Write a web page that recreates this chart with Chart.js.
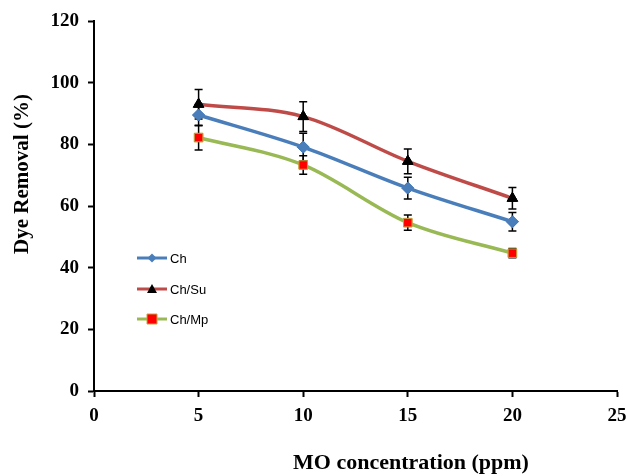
<!DOCTYPE html>
<html>
<head>
<meta charset="utf-8">
<script src="https://cdn.jsdelivr.net/npm/chart.js@4.4.1/dist/chart.umd.min.js"></script>
<style>
html,body{margin:0;padding:0;background:#fff;}
#wrap{width:627px;height:476px;position:relative;}
</style>
</head>
<body>
<div id="wrap"><canvas id="c" width="627" height="476"></canvas></div>
<script>
const concentrations = [5, 10, 15, 20];
const seriesNames = ["Ch", "Ch/Su", "Ch/Mp"];
const chValues = [89.5, 79.1, 65.8, 54.9];
const chErrors = [3.5, 4.5, 3.5, 3.0];
const suValues = [93.0, 89.0, 74.5, 62.5];
const suErrors = [4.8, 4.8, 4.0, 3.5];
const mpValues = [82.2, 73.3, 54.6, 44.7];
const mpErrors = [4.0, 3.0, 2.5, 1.5];
const xTicks = [0, 5, 10, 15, 20, 25];
const yTicks = [0, 20, 40, 60, 80, 100, 120];
const xTitle = "MO concentration (ppm)";
const yTitle = "Dye Removal (%)";

const toPts = (vals) => concentrations.map((x, i) => ({x: x, y: vals[i]}));
const errs = [chErrors, suErrors, mpErrors];

const errorBarPlugin = {
  id: 'errorBars',
  afterDatasetsDraw(chart) {
    const ctx = chart.ctx;
    const xs = chart.scales.x, ys = chart.scales.y;
    ctx.save();
    ctx.strokeStyle = '#000';
    ctx.lineWidth = 1.5;
    chart.data.datasets.forEach((ds, di) => {
      ds.data.forEach((p, i) => {
        const e = errs[di][i];
        const px = xs.getPixelForValue(p.x);
        const top = ys.getPixelForValue(p.y + e);
        const bot = ys.getPixelForValue(p.y - e);
        ctx.beginPath();
        ctx.moveTo(px, top); ctx.lineTo(px, bot);
        ctx.moveTo(px - 4, top); ctx.lineTo(px + 4, top);
        ctx.moveTo(px - 4, bot); ctx.lineTo(px + 4, bot);
        ctx.stroke();
      });
    });
    chart.data.datasets.forEach((ds, di) => {
      const meta = chart.getDatasetMeta(di);
      meta.data.forEach(pt => pt.draw(ctx, chart.chartArea));
    });
    ctx.restore();
  }
};

const titlePlugin = {
  id: 'axisTitles',
  afterDraw(chart) {
    const ctx = chart.ctx;
    ctx.save();
    ctx.fillStyle = '#000';
    ctx.font = 'bold 22px "Liberation Serif", "Times New Roman", serif';
    ctx.textAlign = 'center';
    ctx.textBaseline = 'middle';
    ctx.fillText(xTitle, 411, 463);
    ctx.font = 'bold 21px "Liberation Serif", "Times New Roman", serif';
    ctx.translate(23, 174);
    ctx.rotate(-Math.PI / 2);
    ctx.fillText(yTitle, 0, 0);
    ctx.restore();
  }
};

const legendPlugin = {
  id: 'innerLegend',
  afterDraw(chart) {
    const ctx = chart.ctx;
    ctx.save();
    const rows = [258, 289, 319];
    chart.data.datasets.forEach((ds, di) => {
      const y = rows[di];
      ctx.strokeStyle = ds.borderColor;
      ctx.lineWidth = 3;
      ctx.beginPath(); ctx.moveTo(137, y); ctx.lineTo(167, y); ctx.stroke();
      const mx = 152;
      ctx.fillStyle = ds.pointBackgroundColor;
      ctx.strokeStyle = ds.pointBorderColor;
      ctx.lineWidth = 1;
      ctx.beginPath();
      if (ds.pointStyle === 'rectRot') {
        ctx.moveTo(mx, y - 4.5); ctx.lineTo(mx + 4.5, y); ctx.lineTo(mx, y + 4.5); ctx.lineTo(mx - 4.5, y); ctx.closePath();
        ctx.fill();
      } else if (ds.pointStyle === 'triangle') {
        ctx.moveTo(mx, y - 5); ctx.lineTo(mx + 5, y + 4); ctx.lineTo(mx - 5, y + 4); ctx.closePath();
        ctx.fill();
      } else {
        ctx.rect(mx - 5, y - 5, 10, 10); ctx.fill(); ctx.stroke();
      }
      ctx.fillStyle = '#000';
      ctx.font = '13px "Liberation Sans", "Open Sans", sans-serif';
      ctx.textAlign = 'left';
      ctx.textBaseline = 'middle';
      ctx.fillText(ds.label, 170, y + 1);
    });
    ctx.restore();
  }
};

const tickFont = {family: '"Liberation Serif", "Times New Roman", serif', size: 19, weight: 'bold'};

new Chart(document.getElementById('c'), {
  type: 'line',
  data: {
    datasets: [
      {label: seriesNames[0], data: toPts(chValues), borderColor: '#4a7ebb', backgroundColor: '#4a7ebb',
       pointStyle: 'rectRot', pointRadius: 6, pointBackgroundColor: '#4a7ebb', pointBorderColor: '#4a7ebb', pointBorderWidth: 1,
       borderWidth: 3.5, tension: 0.4, cubicInterpolationMode: 'monotone'},
      {label: seriesNames[1], data: toPts(suValues), borderColor: '#be4b48', backgroundColor: '#000',
       pointStyle: 'triangle', pointRadius: 6, pointBackgroundColor: '#000', pointBorderColor: '#000', pointBorderWidth: 1,
       borderWidth: 3.5, tension: 0.4, cubicInterpolationMode: 'monotone'},
      {label: seriesNames[2], data: toPts(mpValues), borderColor: '#98b954', backgroundColor: '#ff0000',
       pointStyle: 'rect', pointRadius: 6, pointBackgroundColor: '#ff0000', pointBorderColor: '#c8a040', pointBorderWidth: 1,
       borderWidth: 3.5, tension: 0.4, cubicInterpolationMode: 'monotone'}
    ]
  },
  options: {
    responsive: false,
    animation: false,
    layout: {padding: {top: 21, right: 0, left: 0, bottom: 0}},
    plugins: {legend: {display: false}, tooltip: {enabled: false}, title: {display: false}},
    scales: {
      x: {
        type: 'linear', min: 0, max: 25,
        afterBuildTicks: (s) => { s.ticks = xTicks.map(v => ({value: v})); },
        afterFit: (s) => { s.height = 85; s.paddingRight = 10; },
        grid: {display: true, drawOnChartArea: false, drawTicks: true, tickLength: 6, color: '#000', tickWidth: 2},
        border: {display: true, color: '#000', width: 2},
        ticks: {color: '#000', font: tickFont, padding: 8, maxRotation: 0}
      },
      y: {
        type: 'linear', min: 0, max: 120,
        afterBuildTicks: (s) => { s.ticks = yTicks.map(v => ({value: v})); },
        afterFit: (s) => { s.width = 94; },
        grid: {display: true, drawOnChartArea: false, drawTicks: true, tickLength: 6, color: '#000', tickWidth: 2},
        border: {display: true, color: '#000', width: 2},
        ticks: {color: '#000', font: tickFont, padding: 9}
      }
    }
  },
  plugins: [errorBarPlugin, titlePlugin, legendPlugin]
});
</script>
</body>
</html>
